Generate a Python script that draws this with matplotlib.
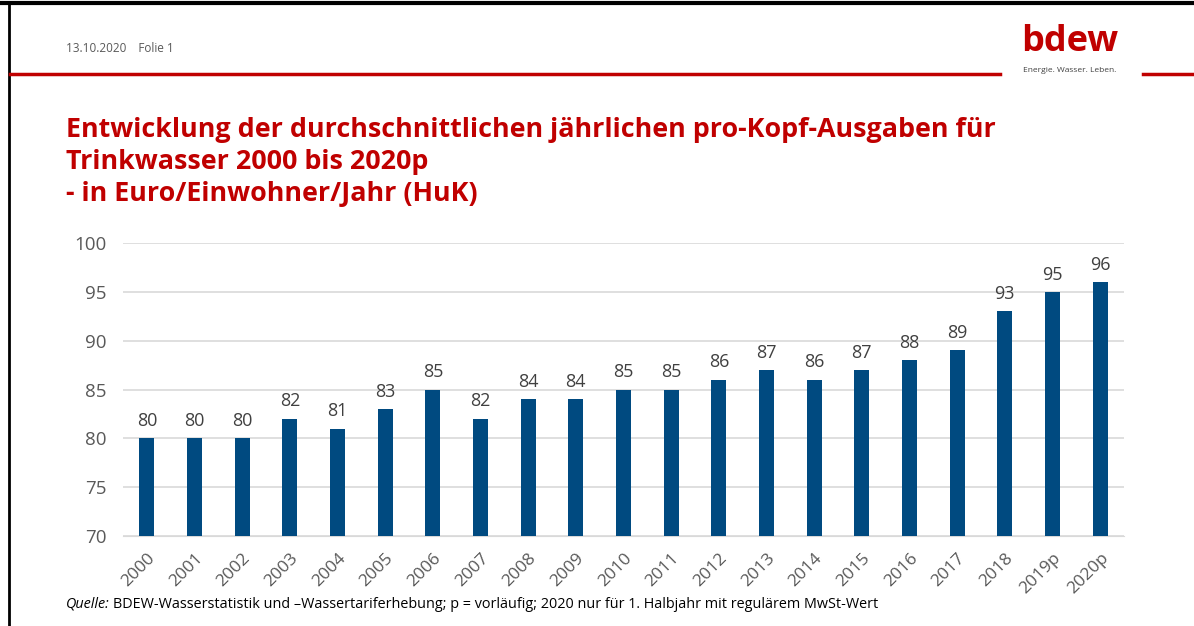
import matplotlib
matplotlib.use("Agg")
import matplotlib.pyplot as plt
from matplotlib.lines import Line2D

years = ["2000", "2001", "2002", "2003", "2004", "2005", "2006", "2007", "2008", "2009",
         "2010", "2011", "2012", "2013", "2014", "2015", "2016", "2017", "2018", "2019p", "2020p"]
values = [80, 80, 80, 82, 81, 83, 85, 82, 84, 84, 85, 85, 86, 87, 86, 87, 88, 89, 93, 95, 96]
y_ticks = [70, 75, 80, 85, 90, 95, 100]

RED = "#C00000"
BLUE = "#004A80"
GREY = "#595959"

plt.rcParams["font.family"] = ["Open Sans", "DejaVu Sans"]

W, H = 1194, 626
fig = plt.figure(figsize=(W / 100, H / 100), dpi=100)


def fx(px):
    return px / W


def fy(py):
    return 1 - py / H


# slide frame and header lines
fig.add_artist(Line2D([0, 1], [fy(3), fy(3)], color="black", lw=3))
fig.add_artist(Line2D([fx(9), fx(9)], [fy(3), 0], color="black", lw=2))
fig.add_artist(Line2D([fx(10), fx(1000)], [fy(74), fy(74)], color=RED, lw=2.5))
fig.add_artist(Line2D([fx(1143), 1], [fy(74), fy(74)], color=RED, lw=2.5))

fig.text(fx(66), fy(49), "13.10.2020    Folie 1", fontsize=8.5, color=GREY, va="center")
fig.text(fx(1070), fy(42), "bdew", fontsize=26, color=RED, fontweight="bold",
         ha="center", va="center")
fig.text(fx(1070), fy(70), "Energie. Wasser. Leben.", fontsize=6, color="#404040",
         ha="center", va="center")

title = ("Entwicklung der durchschnittlichen jährlichen pro-Kopf-Ausgaben für\n"
         "Trinkwasser 2000 bis 2020p\n"
         "- in Euro/Einwohner/Jahr (HuK)")
fig.text(fx(66), fy(117), title, fontsize=19.4, color=RED, fontweight="bold",
         va="top", ha="left", linespacing=1.29)

ax = fig.add_axes([fx(123), fy(536), fx(1124) - fx(123), fy(243) - fy(536)])
x = range(len(years))
ax.bar(x, values, width=0.32, color=BLUE, zorder=3)
for xi, v in zip(x, values):
    ax.annotate(str(v), (xi, v), xytext=(0, 6), textcoords="offset points",
                ha="center", va="bottom", fontsize=13, color="#404040")

ax.set_ylim(70, 100)
ax.set_xlim(-0.5, len(years) - 0.5)
ax.set_yticks(y_ticks)
ax.set_yticklabels([str(t) for t in y_ticks])
ax.yaxis.grid(True, color="#D9D9D9", lw=1.2, zorder=0)
ax.set_xticks(list(x))
ax.set_xticklabels(years, rotation=45, ha="right", rotation_mode="anchor")
ax.tick_params(axis="both", length=0, labelsize=13.5, colors=GREY)
ax.tick_params(axis="x", labelsize=12.5, pad=10)
ax.tick_params(axis="y", pad=12)
for s in ax.spines.values():
    s.set_visible(False)
ax.spines["bottom"].set_visible(True)
ax.spines["bottom"].set_color("#D9D9D9")

src_q = fig.text(fx(66), fy(604), "Quelle:", fontsize=10.4, style="italic", color="black",
                 va="center")
fig.canvas.draw()
bb = src_q.get_window_extent()
fig.text(bb.x1 / W + fx(3), fy(604),
         "BDEW-Wasserstatistik und \u2013Wassertariferhebung; p = vorläufig; "
         "2020 nur für 1. Halbjahr mit regulärem MwSt-Wert",
         fontsize=10.4, color="black", va="center")

fig.savefig("out.png", dpi=100)
